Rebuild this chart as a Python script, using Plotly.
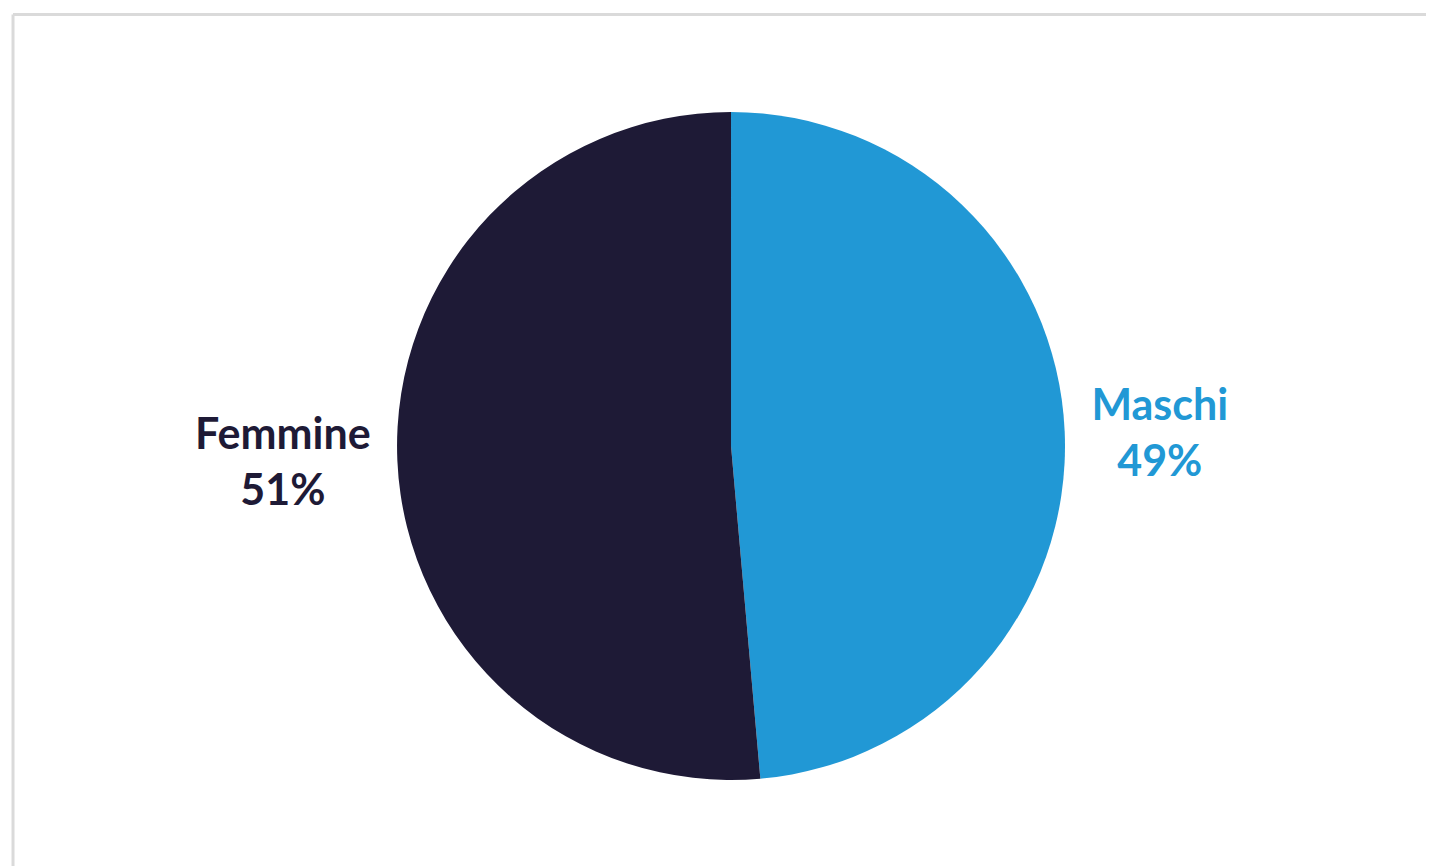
import plotly.graph_objects as go

labels = ["Maschi", "Femmine"]
values = [48.6, 51.4]
colors = ["#2198D5", "#1E1A36"]

fig = go.Figure(go.Pie(
    labels=labels,
    values=values,
    sort=False,
    direction="clockwise",
    rotation=0,
    domain=dict(x=[0.2713, 0.7371], y=[0.1085, 0.8799]),
    marker=dict(colors=colors, line=dict(width=0)),
    textposition="outside",
    texttemplate="<b>%{label}<br>%{percent:.0%}</b>",
    textfont=dict(color=colors, size=43, family="Lato"),
    hoverinfo="label+percent",
    showlegend=False,
))

border = dict(color="#DADADA", width=3)
fig.update_layout(
    width=1434, height=866,
    margin=dict(l=0, r=0, t=0, b=0),
    paper_bgcolor="white",
    plot_bgcolor="white",
    showlegend=False,
    shapes=[
        dict(type="line", xref="paper", yref="paper",
             x0=0.0035, x1=1.2, y0=0.9925, y1=0.9925, line=border, layer="below"),
        dict(type="line", xref="paper", yref="paper",
             x0=0.0035, x1=0.0035, y0=-0.3, y1=0.9925, line=border, layer="below"),
    ],
)

fig.write_html("out.html")
